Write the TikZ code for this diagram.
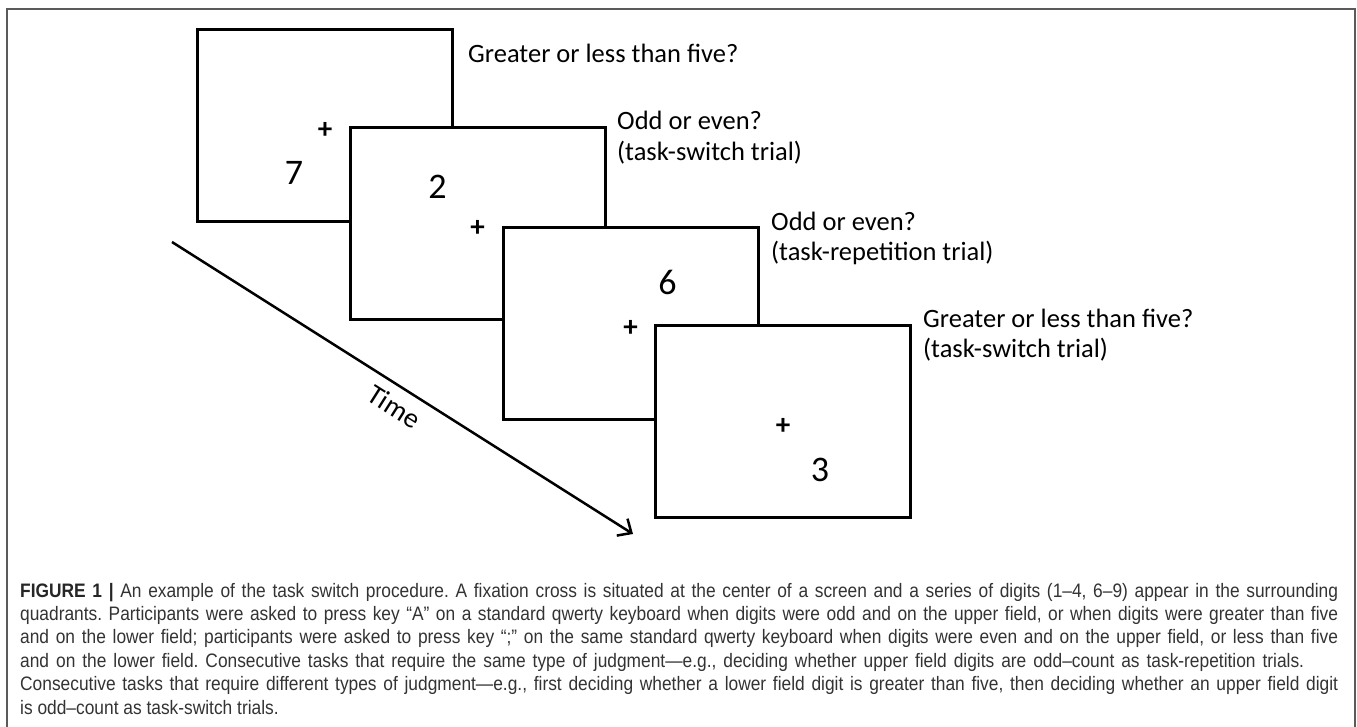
\documentclass[tikz,border=0pt]{standalone}
\usepackage{fontspec}
\setmainfont{Carlito}
\newfontfamily\capfont[FakeStretch=0.89]{Liberation Sans}
\usetikzlibrary{arrows.meta}
\definecolor{framegray}{HTML}{5A5A5A}
\definecolor{captext}{HTML}{333333}
\tikzset{
  screen/.style={draw=black, fill=white, line width=3pt, minimum width=255pt, minimum height=192pt, inner sep=0pt},
  cross/.style={font=\fontsize{29}{29}\selectfont\bfseries, inner sep=0pt},
  digit/.style={font=\fontsize{36}{36}\selectfont, inner sep=0pt},
  tasklabel/.style={font=\fontsize{26.5}{30.5}\selectfont, align=left, anchor=base west, inner sep=0pt},
  capline/.style={font=\capfont\fontsize{19.5}{22}\selectfont\frenchspacing, text=captext, anchor=base west, inner sep=0pt},
  timeline/.style={line width=2.5pt, -{Straight Barb[length=11pt,width=20pt,line width=2.5pt]}}
}
\begin{document}
\begin{tikzpicture}[x=1pt,y=-1pt]
\useasboundingbox (0,0) rectangle (1357,726);
\fill[white] (0,0) rectangle (1357,726);
% outer frame
\draw[framegray, line width=1.8pt] (7,735) -- (7,9) -- (1355,9) -- (1355,735);

% time arrow
\coordinate (t0) at (172,242);
\coordinate (t1) at (633,534);
\draw[timeline] (t0) -- node[sloped, pos=0.505, below=9pt, font=\fontsize{28}{28}\selectfont, inner sep=0pt] (timelbl) {Time} (t1);

% screens
\node[screen] (s1) at (325,125.5) {};
\node[cross] (p1) at ([yshift=-5pt]s1.center) {+};
\node[digit] (d1) at ([xshift=-31pt,yshift=-47pt]s1.center) {7};
\node[tasklabel] (l1) at (468,62.5) {Greater or less than five?};

\node[screen] (s2) at (477.5,223.5) {};
\node[digit] (d2) at ([xshift=-40pt,yshift=37pt]s2.center) {2};
\node[cross] (p2) at ([yshift=-4.5pt]s2.center) {+};
\node[tasklabel] (l2) at (617,160) {Odd or even?\\(task-switch trial)};

\node[screen] (s3) at (630.5,323.5) {};
\node[digit] (d3) at ([xshift=37pt,yshift=41pt]s3.center) {6};
\node[cross] (p3) at ([yshift=-5pt]s3.center) {+};
\node[tasklabel] (l3) at (771,260.5) {Odd or even?\\(task-repetition trial)};

\node[screen] (s4) at (783,421) {};
\node[cross] (p4) at ([yshift=-5pt]s4.center) {+};
\node[digit] (d4) at ([xshift=37pt,yshift=-49pt]s4.center) {3};
\node[tasklabel] (l4) at (923,357.5) {Greater or less than five?\\(task-switch trial)};

% caption
\node[capline] (c1) at (20,597) {\makebox[1318pt][s]{{\color{black!85}\bfseries FIGURE 1 |} An example of the task switch procedure. A fixation cross is situated at the center of a screen and a series of digits (1–4, 6–9) appear in the surrounding}};
\node[capline] (c2) at (20,620.4) {\makebox[1318pt][s]{quadrants. Participants were asked to press key “A” on a standard qwerty keyboard when digits were odd and on the upper field, or when digits were greater than five}};
\node[capline] (c3) at (20,643.8) {\makebox[1318pt][s]{and on the lower field; participants were asked to press key “;” on the same standard qwerty keyboard when digits were even and on the upper field, or less than five}};
\node[capline] (c4) at (20,667.2) {\makebox[1284pt][s]{and on the lower field. Consecutive tasks that require the same type of judgment—e.g., deciding whether upper field digits are odd–count as task-repetition trials.}};
\node[capline] (c5) at (20,690.6) {\makebox[1318pt][s]{Consecutive tasks that require different types of judgment—e.g., first deciding whether a lower field digit is greater than five, then deciding whether an upper field digit}};
\node[capline] (c6) at (20,714) {is odd–count as task-switch trials.};
\end{tikzpicture}
\end{document}
